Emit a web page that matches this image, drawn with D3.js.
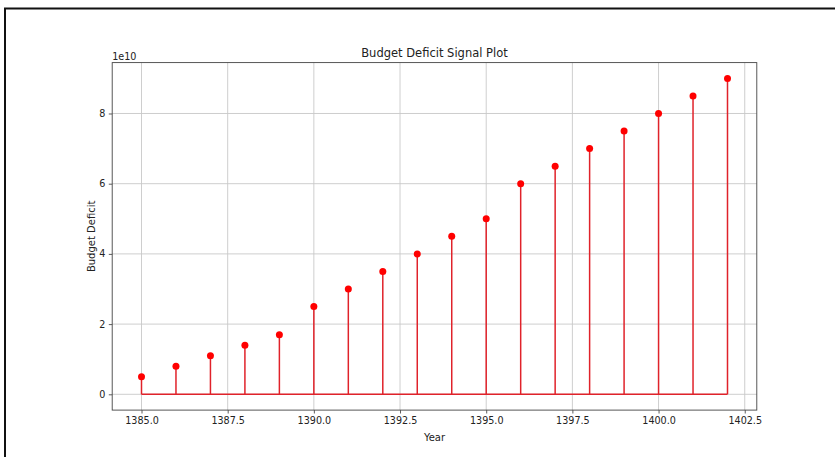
<!DOCTYPE html>
<html>
<head>
<meta charset="utf-8">
<script src="https://cdn.jsdelivr.net/npm/d3@7"></script>
<style>
  html, body { margin: 0; padding: 0; background: #fff; }
  svg { display: block; }
  text { font-family: "DejaVu Sans", sans-serif; fill: #222; }
</style>
</head>
<body>
<svg id="chart" width="835" height="457"></svg>
<script>
// Budget deficit per year (Iranian calendar), in rials
const years = [1385, 1386, 1387, 1388, 1389, 1390, 1391, 1392, 1393,
               1394, 1395, 1396, 1397, 1398, 1399, 1400, 1401, 1402];
const deficit = [0.5e10, 0.8e10, 1.1e10, 1.4e10, 1.7e10, 2.5e10, 3.0e10, 3.5e10, 4.0e10,
                 4.5e10, 5.0e10, 6.0e10, 6.5e10, 7.0e10, 7.5e10, 8.0e10, 8.5e10, 9.0e10];
const xTicks = [1385, 1387.5, 1390, 1392.5, 1395, 1397.5, 1400, 1402.5];
const yTicks = [0, 2e10, 4e10, 6e10, 8e10];
const yScaleExp = 10;
const titleText = "Budget Deficit Signal Plot";
const xLabel = "Year";
const yLabel = "Budget Deficit";

const svg = d3.select("#chart");

// outer frame
svg.append("rect")
  .attr("x", 5).attr("y", 8.5)
  .attr("width", 900).attr("height", 500)
  .attr("fill", "none").attr("stroke", "#111").attr("stroke-width", 2);

const plot = { left: 112.2, right: 756.8, top: 62.6, bottom: 410.1 };

// axis limits padded by 5% of the data span
const xMin = d3.min(years), xMax = d3.max(years);
const xPad = (xMax - xMin) * 0.05;
const yMin = 0, yMax = d3.max(deficit);
const yPad = (yMax - yMin) * 0.05;

const x = d3.scaleLinear().domain([xMin - xPad, xMax + xPad]).range([plot.left, plot.right]);
const y = d3.scaleLinear().domain([yMin - yPad, yMax + yPad]).range([plot.bottom, plot.top]);

const gridColor = "#c8c8c8";
const grid = svg.append("g");
grid.selectAll("line.vx").data(xTicks).join("line")
  .attr("x1", d => x(d)).attr("x2", d => x(d))
  .attr("y1", plot.top).attr("y2", plot.bottom)
  .attr("stroke", gridColor).attr("stroke-width", 0.9);
grid.selectAll("line.hy").data(yTicks).join("line")
  .attr("x1", plot.left).attr("x2", plot.right)
  .attr("y1", d => y(d)).attr("y2", d => y(d))
  .attr("stroke", gridColor).attr("stroke-width", 0.9);

// stems
const red = "#e0222a";
const stems = svg.append("g");
stems.selectAll("line").data(years).join("line")
  .attr("x1", d => x(d)).attr("x2", d => x(d))
  .attr("y1", y(0)).attr("y2", (d, i) => y(deficit[i]))
  .attr("stroke", red).attr("stroke-width", 1.5);

// baseline
svg.append("line")
  .attr("x1", x(xMin)).attr("x2", x(xMax))
  .attr("y1", y(0)).attr("y2", y(0))
  .attr("stroke", red).attr("stroke-width", 1.5);

// markers
svg.append("g").selectAll("circle").data(years).join("circle")
  .attr("cx", d => x(d)).attr("cy", (d, i) => y(deficit[i]))
  .attr("r", 3.5).attr("fill", "#ff0000");

// axes
const fmtX = d3.format(".1f");
const xAxis = d3.axisBottom(x).tickValues(xTicks).tickFormat(fmtX)
  .tickSizeInner(3.4).tickSizeOuter(0).tickPadding(3.6);
const yAxis = d3.axisLeft(y).tickValues(yTicks)
  .tickFormat(d => d3.format("d")(d / Math.pow(10, yScaleExp)))
  .tickSizeInner(3.4).tickSizeOuter(0).tickPadding(3.4);

const gx = svg.append("g").attr("transform", `translate(0,${plot.bottom})`).call(xAxis);
const gy = svg.append("g").attr("transform", `translate(${plot.left},0)`).call(yAxis);
[gx, gy].forEach(g => {
  g.select(".domain").remove();
  g.selectAll(".tick line").attr("stroke", "#333").attr("stroke-width", 0.8);
  g.selectAll(".tick text").attr("font-size", 9.6).attr("fill", "#222")
    .attr("font-family", "DejaVu Sans, sans-serif");
});

// frame of the plot area
svg.append("rect")
  .attr("x", plot.left).attr("y", plot.top)
  .attr("width", plot.right - plot.left).attr("height", plot.bottom - plot.top)
  .attr("fill", "none").attr("stroke", "#444").attr("stroke-width", 0.9);

// texts
svg.append("text")
  .attr("x", (plot.left + plot.right) / 2).attr("y", 56.5)
  .attr("text-anchor", "middle").attr("font-size", 11.5)
  .text(titleText);

svg.append("text")
  .attr("x", plot.left).attr("y", 60)
  .attr("font-size", 9.6)
  .text("1e" + yScaleExp);

svg.append("text")
  .attr("x", (plot.left + plot.right) / 2).attr("y", 440.5)
  .attr("text-anchor", "middle").attr("font-size", 10)
  .text(xLabel);

svg.append("text")
  .attr("transform", `translate(94.5,${(plot.top + plot.bottom) / 2}) rotate(-90)`)
  .attr("text-anchor", "middle").attr("font-size", 10)
  .text(yLabel);
</script>
</body>
</html>
